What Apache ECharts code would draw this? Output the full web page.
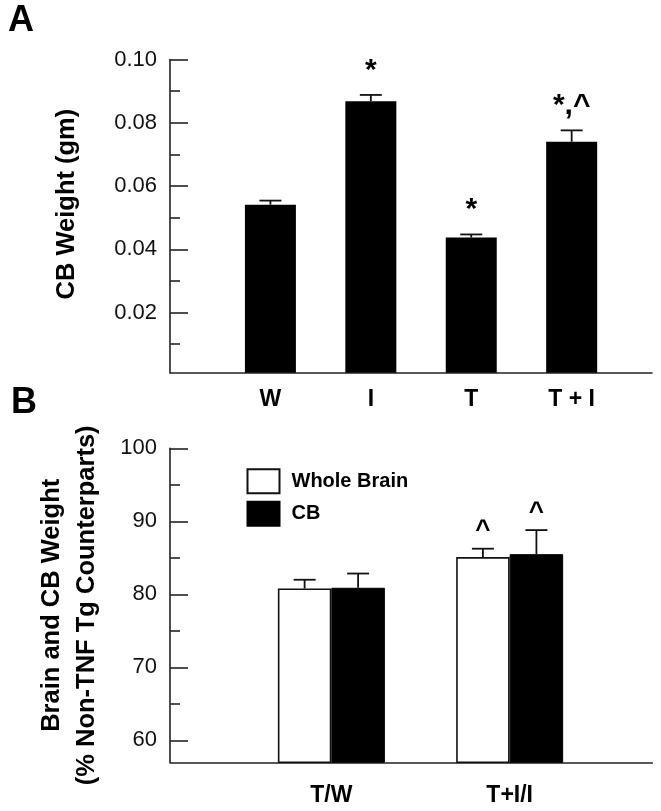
<!DOCTYPE html>
<html>
<head>
<meta charset="utf-8">
<script src="https://cdn.jsdelivr.net/npm/echarts@6/dist/echarts.min.js"></script>
<style>
html,body{margin:0;padding:0;background:#fff;}
#chart{width:661px;height:811px;}
</style>
</head>
<body>
<div id="chart"></div>
<script>
// ---------- Panel A data ----------
const catsA = ['W', 'I', 'T', 'T + I'];
const cbWeight = [0.0541, 0.0868, 0.0437, 0.0740];
const cbWeightErr = [0.0013, 0.0020, 0.0010, 0.0036];
const annotA = ['', '*', '*', '*,^'];
const ticksA = [0.02, 0.04, 0.06, 0.08, 0.10];
const minorTicksA = [0.01, 0.03, 0.05, 0.07, 0.09];

// ---------- Panel B data ----------
const catsB = ['T/W', 'T+I/I'];
const seriesNamesB = ['Whole Brain', 'CB'];
const wholeBrain = [80.8, 85.1];
const wholeBrainErr = [1.2, 1.15];
const cbPct = [80.9, 85.5];
const cbPctErr = [1.95, 3.3];
const annotWB = ['', '^'];
const annotCB = ['', '^'];
const ticksB = [60, 70, 80, 90, 100];
const minorTicksB = [65, 75, 85, 95];

const FONT = "'Liberation Sans', Arial, Helvetica, sans-serif";
const AX = '#222';

function errRender(offsetPx, annots, fontSize, midGap) {
  return function (params, api) {
    const x = api.value(0), v = api.value(1), e = api.value(2);
    const p0 = api.coord([x, v]);
    const p1 = api.coord([x, v + e]);
    const cx = p0[0] + offsetPx;
    const st = { stroke: '#111', lineWidth: 1.8 };
    const children = [
      { type: 'line', shape: { x1: cx, y1: p0[1], x2: cx, y2: p1[1] }, style: st },
      { type: 'line', shape: { x1: cx - 11, y1: p1[1], x2: cx + 11, y2: p1[1] }, style: st }
    ];
    const t = annots[params.dataIndex];
    if (t) {
      children.push({
        type: 'text',
        style: {
          text: t, x: cx, y: p1[1] - midGap, align: 'center', verticalAlign: 'middle',
          fontFamily: FONT, fontWeight: 'bold', fontSize: fontSize, fill: '#000'
        }
      });
    }
    return { type: 'group', children: children };
  };
}

const chart = echarts.init(document.getElementById('chart'), null, { renderer: 'canvas' });

const option = {
  backgroundColor: '#fff',
  animation: false,
  textStyle: { fontFamily: FONT },
  graphic: [
    { type: 'text', left: 8, top: 3, style: { text: 'A', fontFamily: FONT, fontWeight: 'bold', fontSize: 36, fill: '#000' } },
    { type: 'text', left: 11, top: 385, style: { text: 'B', fontFamily: FONT, fontWeight: 'bold', fontSize: 36, fill: '#000' } }
  ],
  legend: {
    data: seriesNamesB,
    orient: 'vertical',
    left: 246.5,
    top: 468.3,
    padding: 0,
    itemWidth: 32,
    itemHeight: 24,
    itemGap: 6.5,
    icon: 'rect',
    selectedMode: false,
    textStyle: { fontFamily: FONT, fontWeight: 'bold', fontSize: 20, color: '#000', padding: [0, 0, 0, 7] }
  },
  grid: [
    { left: 170, right: 9, top: 59.5, bottom: 811 - 372.7 },
    { left: 170, right: 8.7, top: 448.3, bottom: 811 - 762.3 }
  ],
  xAxis: [
    {
      gridIndex: 0, type: 'value', min: 0, max: 4.8,
      axisLine: { show: true, lineStyle: { color: AX, width: 1.6 } },
      axisTick: { show: false },
      splitLine: { show: false },
      axisLabel: {
        customValues: catsA.map((c, i) => i + 1),
        formatter: v => catsA[Math.round(v) - 1] || '',
        fontFamily: FONT, fontWeight: 'bold', fontSize: 23, color: '#000', margin: 15
      }
    },
    {
      gridIndex: 1, type: 'value', min: 0.095, max: 2.8,
      axisLine: { show: true, lineStyle: { color: AX, width: 1.6 } },
      axisTick: { show: false },
      splitLine: { show: false },
      axisLabel: {
        customValues: catsB.map((c, i) => i + 1),
        formatter: v => catsB[Math.round(v) - 1] || '',
        fontFamily: FONT, fontWeight: 'bold', fontSize: 23, color: '#000', margin: 22
      }
    }
  ],
  yAxis: [
    {
      gridIndex: 0, type: 'value', min: 0.001, max: 0.1, position: 'left',
      name: 'CB Weight (gm)', nameLocation: 'middle', nameGap: 86,
      nameTextStyle: { fontFamily: FONT, fontWeight: 'bold', fontSize: 25.5, color: '#000', lineHeight: 35, padding: [0, 0, 0, 24] },
      axisLine: { show: true, lineStyle: { color: AX, width: 1.6 } },
      axisTick: { show: true, inside: true, length: 18, customValues: ticksA, lineStyle: { color: AX, width: 1.6 } },
      axisLabel: { customValues: ticksA, formatter: v => v.toFixed(2), fontFamily: FONT, fontSize: 22, color: '#111', margin: 13 },
      splitLine: { show: false }
    },
    {
      gridIndex: 0, type: 'value', min: 0.001, max: 0.1, position: 'left',
      axisLine: { show: false },
      axisTick: { show: true, inside: true, length: 10, customValues: minorTicksA, lineStyle: { color: AX, width: 1.6 } },
      axisLabel: { show: false },
      splitLine: { show: false }
    },
    {
      gridIndex: 1, type: 'value', min: 57, max: 100, position: 'left',
      name: 'Brain and CB Weight\n(% Non-TNF Tg Counterparts)', nameLocation: 'middle', nameGap: 66,
      nameTextStyle: { fontFamily: FONT, fontWeight: 'bold', fontSize: 25.5, color: '#000', lineHeight: 35 },
      axisLine: { show: true, lineStyle: { color: AX, width: 1.6 } },
      axisTick: { show: true, inside: true, length: 18, customValues: ticksB, lineStyle: { color: AX, width: 1.6 } },
      axisLabel: { customValues: ticksB, fontFamily: FONT, fontSize: 22, color: '#111', margin: 13 },
      splitLine: { show: false }
    },
    {
      gridIndex: 1, type: 'value', min: 57, max: 100, position: 'left',
      axisLine: { show: false },
      axisTick: { show: true, inside: true, length: 10, customValues: minorTicksB, lineStyle: { color: AX, width: 1.6 } },
      axisLabel: { show: false },
      splitLine: { show: false }
    }
  ],
  series: [
    {
      name: 'CB Weight', type: 'bar', xAxisIndex: 0, yAxisIndex: 0,
      barWidth: 51, clip: true,
      itemStyle: { color: '#000' },
      data: cbWeight.map((v, i) => [i + 1, v])
    },
    {
      name: 'errA', type: 'custom', xAxisIndex: 0, yAxisIndex: 0, z: 5,
      renderItem: errRender(0, annotA, 30, 24.5),
      encode: { x: 0, y: 1 },
      data: cbWeight.map((v, i) => [i + 1, v, cbWeightErr[i]])
    },
    {
      name: seriesNamesB[0], type: 'bar', xAxisIndex: 1, yAxisIndex: 2,
      barWidth: 53.5, barGap: '0%', clip: true,
      itemStyle: { color: '#fff', borderColor: '#111', borderWidth: 1.6 },
      data: wholeBrain.map((v, i) => [i + 1, v])
    },
    {
      name: seriesNamesB[1], type: 'bar', xAxisIndex: 1, yAxisIndex: 2,
      barWidth: 53.5, barGap: '0%', clip: true,
      itemStyle: { color: '#000', borderColor: '#000', borderWidth: 1 },
      data: cbPct.map((v, i) => [i + 1, v])
    },
    {
      name: 'errWB', type: 'custom', xAxisIndex: 1, yAxisIndex: 2, z: 5,
      renderItem: errRender(-26.75, annotWB, 26, 17.6),
      encode: { x: 0, y: 1 },
      data: wholeBrain.map((v, i) => [i + 1, v, wholeBrainErr[i]])
    },
    {
      name: 'errCB', type: 'custom', xAxisIndex: 1, yAxisIndex: 2, z: 5,
      renderItem: errRender(26.75, annotCB, 26, 17.6),
      encode: { x: 0, y: 1 },
      data: cbPct.map((v, i) => [i + 1, v, cbPctErr[i]])
    }
  ]
};
chart.setOption(option);
</script>
</body>
</html>
